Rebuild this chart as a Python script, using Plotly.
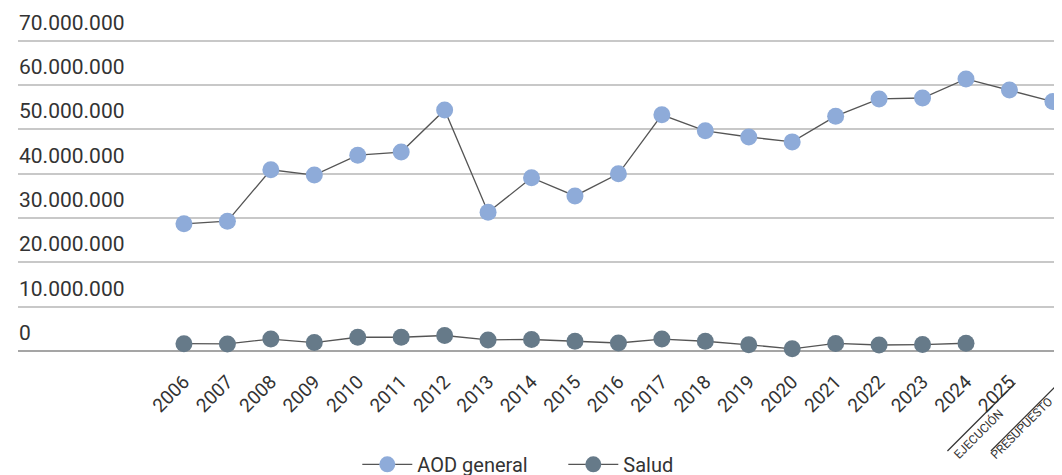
import plotly.graph_objects as go

years = list(range(2006, 2027))
year_labels = [str(y) for y in years]
aod_general = [28.7e6, 29.3e6, 40.9e6, 39.7e6, 44.2e6, 44.9e6, 54.4e6, 31.3e6, 39.1e6, 35.0e6,
               40.0e6, 53.3e6, 49.7e6, 48.3e6, 47.2e6, 53.0e6, 56.9e6, 57.1e6, 61.4e6, 58.9e6, 56.3e6]
salud_years = list(range(2006, 2025))
salud = [1.65e6, 1.6e6, 2.7e6, 1.9e6, 3.1e6, 3.1e6, 3.5e6, 2.5e6, 2.6e6, 2.2e6,
         1.8e6, 2.7e6, 2.2e6, 1.4e6, 0.5e6, 1.7e6, 1.35e6, 1.45e6, 1.75e6]
y_ticks = [0, 10e6, 20e6, 30e6, 40e6, 50e6, 60e6, 70e6]
y_tick_labels = ["0", "10.000.000", "20.000.000", "30.000.000", "40.000.000",
                 "50.000.000", "60.000.000", "70.000.000"]
sub_labels = {2025: "EJECUCIÓN", 2026: "PRESUPUESTO"}

FONT = "Roboto"
TXT = "#333333"

fig = go.Figure()
fig.add_trace(go.Scatter(
    x=years, y=aod_general, name="AOD general", mode="lines+markers",
    line=dict(color="#555555", width=1.3),
    marker=dict(color="#8eabd9", size=17),
    cliponaxis=False,
))
fig.add_trace(go.Scatter(
    x=salud_years, y=salud, name="Salud", mode="lines+markers",
    line=dict(color="#555555", width=1.3),
    marker=dict(color="#667a89", size=17),
    cliponaxis=False,
))

# y-axis labels drawn above each gridline, left-aligned inside the plot
for v, lab in zip(y_ticks, y_tick_labels):
    fig.add_annotation(
        x=0, xref="paper", y=v, yref="y", text=lab, showarrow=False,
        xanchor="left", yanchor="bottom", xshift=-1, yshift=4,
        font=dict(family=FONT, size=21, color=TXT),
    )

for yr, txt in sub_labels.items():
    fig.add_annotation(
        x=yr, xref="x", y=0, yref="paper", text=txt, showarrow=False,
        textangle=-45, font=dict(family=FONT, size=12, color=TXT),
        xanchor="center", yanchor="middle", xshift=-31, yshift=-82 if yr == 2025 else -77,
    )
    fig.add_shape(
        type="line", xref="x", yref="paper", xsizemode="pixel", ysizemode="pixel",
        xanchor=yr, yanchor=0, x0=-62, x1=6, y0=-100, y1=-32,
        line=dict(color="#333333", width=1.2),
    )

# page body adds an 8px offset; figure sized so the plot lands where the reference has it
fig.update_layout(
    width=1054, height=467,
    margin=dict(l=10, r=0, t=24, b=124, autoexpand=False),
    plot_bgcolor="white", paper_bgcolor="white",
    font=dict(family=FONT, color=TXT),
    showlegend=True,
    legend=dict(orientation="h", x=0.325, xanchor="left", y=-0.294, yanchor="top",
                font=dict(family=FONT, size=20, color=TXT), itemwidth=50,
                entrywidth=141, tracegroupgap=0),
    xaxis=dict(
        range=[2002.18, 2026.21], tickmode="array", tickvals=years, ticktext=year_labels,
        tickangle=-45, tickfont=dict(family=FONT, size=19, color=TXT),
        showgrid=False, zeroline=False, showline=False, automargin=False,
        ticks="", ticklabelstandoff=15,
    ),
    yaxis=dict(
        range=[0, 72e6], tickmode="array", tickvals=y_ticks, showticklabels=False,
        showgrid=True, gridcolor="#c8c8c8", gridwidth=1.5, automargin=False,
        zeroline=True, zerolinecolor="#a5a5a5", zerolinewidth=1.5,
        showline=False, ticks="",
    ),
)

fig.write_html("out.html")
